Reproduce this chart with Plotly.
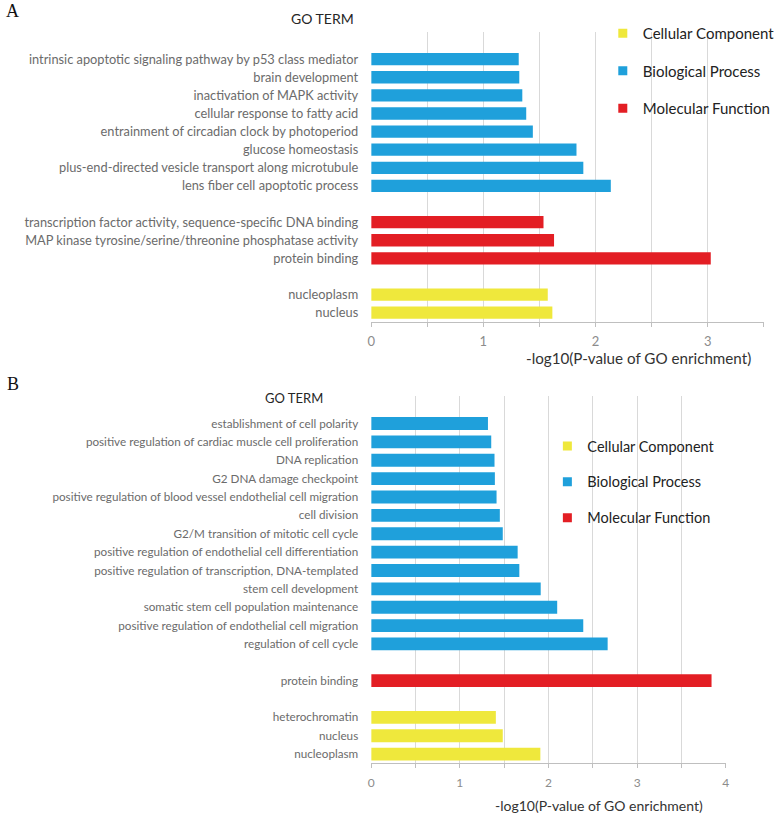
import plotly.graph_objects as go

BLUE = "#1fa0db"
RED = "#e31e24"
YELLOW = "#efe83c"
GRID = "#d9d9d9"
LABEL_FONT = "Lato"

# ---- panel A data (top to bottom within each group) ----
a_bp_terms = [
    "intrinsic apoptotic signaling pathway by p53 class mediator",
    "brain development",
    "inactivation of MAPK activity",
    "cellular response to fatty acid",
    "entrainment of circadian clock by photoperiod",
    "glucose homeostasis",
    "plus-end-directed vesicle transport along microtubule",
    "lens fiber cell apoptotic process",
]
a_bp_vals = [1.315, 1.32, 1.347, 1.382, 1.441, 1.83, 1.891, 2.136]
a_mf_terms = [
    "transcription factor activity, sequence-specific DNA binding",
    "MAP kinase tyrosine/serine/threonine phosphatase activity",
    "protein binding",
]
a_mf_vals = [1.536, 1.63, 3.027]
a_cc_terms = ["nucleoplasm", "nucleus"]
a_cc_vals = [1.574, 1.615]

# ---- panel B data ----
b_bp_terms = [
    "establishment of cell polarity",
    "positive regulation of cardiac muscle cell proliferation",
    "DNA replication",
    "G2 DNA damage checkpoint",
    "positive regulation of blood vessel endothelial cell migration",
    "cell division",
    "G2/M transition of mitotic cell cycle",
    "positive regulation of endothelial cell differentiation",
    "positive regulation of transcription, DNA-templated",
    "stem cell development",
    "somatic stem cell population maintenance",
    "positive regulation of endothelial cell migration",
    "regulation of cell cycle",
]
b_bp_vals = [1.317, 1.354, 1.391, 1.395, 1.414, 1.451, 1.484, 1.652, 1.671,
             1.912, 2.098, 2.392, 2.667]
b_mf_terms = ["protein binding"]
b_mf_vals = [3.839]
b_cc_terms = ["heterochromatin", "nucleus", "nucleoplasm"]
b_cc_vals = [1.406, 1.484, 1.908]

groups = ["Cellular Component", "Biological Process", "Molecular Function"]
group_colors = {"Cellular Component": YELLOW, "Biological Process": BLUE,
                "Molecular Function": RED}


def order(bp, mf, cc):
    # blank rows: one on top, one between each GO group
    return [" "] + bp + ["  "] + mf + ["   "] + cc


fig = go.Figure()

panels = [
    ("x", "y", "legend", (a_bp_terms, a_bp_vals), (a_mf_terms, a_mf_vals),
     (a_cc_terms, a_cc_vals), 0.68),
    ("x2", "y2", "legend2", (b_bp_terms, b_bp_vals), (b_mf_terms, b_mf_vals),
     (b_cc_terms, b_cc_vals), 0.7),
]
for xa, ya, leg, bp, mf, cc, w in panels:
    for name, (terms, vals) in zip(["Biological Process", "Molecular Function",
                                    "Cellular Component"], [bp, mf, cc]):
        fig.add_trace(go.Bar(
            x=vals, y=terms, orientation="h", width=w,
            marker=dict(color=group_colors[name], line=dict(width=0)),
            xaxis=xa, yaxis=ya, showlegend=False, hoverinfo="x+y",
        ))
    # legend entries
    for name in groups:
        fig.add_trace(go.Scatter(
            x=[None], y=[None], mode="markers", name=name,
            marker=dict(symbol="square", size=9, color=group_colors[name]),
            xaxis=xa, yaxis=ya, legend=leg, legendgroup=name,
        ))

cat_a = order(a_bp_terms, a_mf_terms, a_cc_terms)
cat_b = order(b_bp_terms, b_mf_terms, b_cc_terms)

xcommon = dict(
    showgrid=True, gridcolor=GRID, gridwidth=1, zeroline=False,
    showline=True, linecolor="#bfbfbf", linewidth=1,
    ticks="outside", ticklen=4, tickcolor="#bfbfbf", dtick=1,
    minor=dict(dtick=0.5, showgrid=True, gridcolor=GRID, ticks="outside",
               ticklen=4, tickcolor="#bfbfbf"),
    ticklabelstandoff=4, fixedrange=True,
)
ycommon = dict(
    type="category", categoryorder="array", showgrid=False, ticks="",
    showline=False, ticklabelstandoff=12, fixedrange=True,
)

fig.update_layout(
    width=780, height=816,
    margin=dict(l=0, r=0, t=0, b=0),
    paper_bgcolor="white", plot_bgcolor="white",
    barmode="overlay",
    xaxis=dict(xcommon, domain=[371 / 780, 767.7 / 780], range=[0, 3.5],
               anchor="y", tickfont=dict(family=LABEL_FONT, size=13, color="#8c8c8c")),
    yaxis=dict(ycommon, domain=[1 - 321.7 / 816, 1 - 32 / 816], anchor="x",
               categoryarray=cat_a, range=[len(cat_a) - 0.5, -0.5],
               tickfont=dict(family=LABEL_FONT, size=12.8, color="#6b6b6b")),
    xaxis2=dict(xcommon, domain=[371 / 780, 729.3 / 780], range=[0, 4],
                anchor="y2", tickfont=dict(family=LABEL_FONT, size=12, color="#8c8c8c")),
    yaxis2=dict(ycommon, domain=[1 - 763.3 / 816, 1 - 396 / 816], anchor="x2",
                categoryarray=cat_b, range=[len(cat_b) - 0.5, -0.5],
                tickfont=dict(family=LABEL_FONT, size=11.7, color="#6b6b6b")),
    legend=dict(x=605 / 780, y=1 - 17 / 816, xanchor="left", yanchor="top",
                font=dict(family=LABEL_FONT, size=15, color="#222222"),
                tracegroupgap=15, bgcolor="rgba(0,0,0,0)"),
    legend2=dict(x=549 / 780, y=1 - 430 / 816, xanchor="left", yanchor="top",
                 font=dict(family=LABEL_FONT, size=14.5, color="#222222"),
                 tracegroupgap=14, bgcolor="rgba(0,0,0,0)"),
)

annotations = [
    dict(text="A", x=9 / 780, y=1 - 11 / 816, font=dict(family="Liberation Serif", size=18, color="#111")),
    dict(text="B", x=9 / 780, y=1 - 384 / 816, font=dict(family="Liberation Serif", size=18, color="#111")),
    dict(text="GO TERM", x=322 / 780, y=1 - 18 / 816, font=dict(family=LABEL_FONT, size=14, color="#262626")),
    dict(text="GO TERM", x=293 / 780, y=1 - 398 / 816, font=dict(family=LABEL_FONT, size=13, color="#262626")),
    dict(text="-log10(P-value of GO enrichment)", x=757 / 780, y=1 - 358 / 816,
         xanchor="right", font=dict(family=LABEL_FONT, size=15.2, color="#333333")),
    dict(text="-log10(P-value of GO enrichment)", x=708 / 780, y=1 - 805 / 816,
         xanchor="right", font=dict(family=LABEL_FONT, size=14, color="#333333")),
]
for a in annotations:
    a.setdefault("xanchor", "center")
    fig.add_annotation(xref="paper", yref="paper", yanchor="middle",
                       showarrow=False, **a)

# page body has a default 8px margin; drop it so the figure fills the window
fig.write_html("out.html", config={"displayModeBar": False},
               post_script="document.body.style.margin='0';")
